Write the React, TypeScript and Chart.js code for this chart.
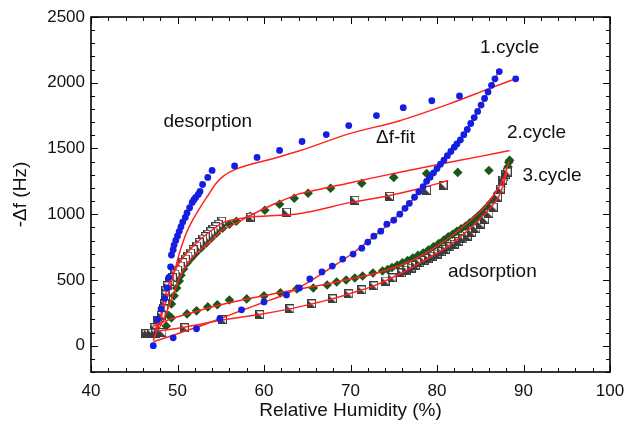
import React, { useEffect, useRef } from "react";
import { Chart, registerables } from "chart.js";

Chart.register(...registerables);

// ---- Data (Relative Humidity %, -Δf Hz) ----
const c1AdsX = [47.2,49.5,52.2,54.9,57.4,60.0,62.6,64.1,65.3,66.7,67.9,69.1,70.3,71.3,72.0,72.7,73.5,74.2,75.0,75.7,76.3,76.8,77.4,77.9,78.4,78.8,79.2,79.6,80.0,80.4,80.8,81.2,81.6,82.0,82.3,82.7,83.1,83.5,83.9,84.3,84.7,85.1,85.5,85.9,86.3,86.7,87.2];
const c1AdsY = [0,60,129,205,273,333,386,439,508,561,606,659,697,742,788,833,871,924,955,1000,1045,1083,1129,1170,1210,1250,1282,1315,1347,1380,1412,1445,1477,1510,1535,1565,1605,1645,1690,1735,1782,1830,1880,1930,1980,2030,2085];
const c1DesX = [89.1,82.6,79.4,76.1,73.0,69.8,67.2,64.4,61.8,59.2,56.6,54.0,53.5,52.9,52.6,52.4,52.1,51.9,51.7,51.4,51.1,50.9,50.6,50.4,50.2,50.0,49.8,49.6,49.5,49.3,49.2,49.0,48.8,48.5,48.1,47.7];
const c1DesY = [2030,1900,1863,1810,1750,1674,1606,1553,1485,1432,1367,1333,1280,1226,1173,1150,1128,1110,1090,1050,1010,975,940,905,870,835,800,765,730,690,600,520,440,360,280,200];
const c1FitAdsX = [47.2,49.5,52.2,54.9,57.4,60.0,62.6,65.3,67.9,70.3,72.7,75.0,77.4,79.4,81.3,83.3,85.2,87.2];
const c1FitAdsY = [30,80,140,205,268,330,395,490,600,705,830,960,1125,1298,1455,1625,1842,2095];
const c1FitDesX = [89.1,86.1,81.5,75.7,69.9,64.2,61.1,58.0,56.5,55.3,54.4,53.6,52.7,51.8,51.0,50.3,49.8,49.3,48.8,48.2,47.6,47.2];
const c1FitDesY = [2030,1957,1841,1711,1613,1484,1424,1370,1335,1290,1230,1150,1060,960,853,720,600,480,360,240,120,40];

const c2AdsX = [49.3,51.1,52.2,53.5,54.6,56.0,58.0,60.0,61.9,63.8,65.7,67.3,68.4,69.5,70.5,71.4,72.6,73.7,74.3,74.8,75.4,76.0,76.6,77.2,77.8,78.4,79.0,79.6,80.2,80.8,81.3,81.8,82.3,82.8,83.3,83.8,84.3,84.8,85.3,85.8,86.2,86.6,87.0,87.4,87.7,88.0,88.2,88.3,88.4];
const c2AdsY = [212,242,265,295,311,348,356,379,402,432,439,462,485,500,515,530,553,568,580,595,612,630,648,667,687,705,728,752,777,803,828,848,870,890,908,935,960,990,1020,1055,1085,1115,1160,1210,1260,1310,1360,1395,1410];
const c2DesX = [86.0,82.4,78.8,75.0,71.3,67.7,65.1,63.5,61.8,60.1,58.4,56.8,56.0,55.2,54.5,53.9,53.3,52.7,52.1,51.6,51.1,50.7,50.4,50.2,49.9,49.6,49.3,49.0,48.7];
const c2DesY = [1333,1318,1310,1280,1235,1197,1159,1121,1076,1030,985,947,924,894,856,818,780,742,704,667,629,583,535,492,439,379,318,230,150];
const c2FitAdsX = [47.2,49.3,51.1,54.6,58.0,61.9,65.7,69.5,73.7,77.2,79.6,81.8,83.8,85.3,86.6,87.7,88.3];
const c2FitAdsY = [150,205,240,305,355,405,450,500,565,650,740,840,950,1040,1150,1270,1400];
const c2FitDesX = [88.4,85.0,80.0,75.7,70.0,64.2,63.3,61.1,58.7,56.8,55.3,53.8,52.2,51.1,50.2,49.7,49.1,48.5,47.9];
const c2FitDesY = [1484,1440,1376,1320,1240,1157,1136,1076,1000,932,886,795,705,621,515,420,320,212,136];

const c3AdsX = [46.3,46.6,47.0,47.4,47.8,48.2,50.8,55.2,59.5,63.0,65.5,67.9,69.8,71.3,72.7,74.0,74.8,75.9,76.5,77.0,77.5,78.0,78.5,79.0,79.5,80.0,80.5,81.0,81.5,82.0,82.5,83.0,83.5,84.0,84.5,85.0,85.5,86.0,86.5,87.0,87.3,87.6,87.9,88.1];
const c3AdsY = [90,92,95,95,98,100,136,197,235,280,318,356,394,424,455,492,515,553,575,590,610,630,648,664,680,697,715,733,752,772,792,812,833,860,890,925,962,1005,1054,1130,1190,1260,1300,1320];
const c3DesX = [80.7,78.8,74.5,70.5,62.6,58.4,55.1,54.7,54.4,54.1,53.8,53.5,53.2,52.9,52.5,52.2,51.8,51.5,51.2,50.9,50.6,50.3,50.0,49.7,49.4,49.1,48.8,48.6,48.6,48.6,48.5,48.4,48.1,47.7,47.3,46.9];
const c3DesY = [1219,1181,1136,1106,1015,977,947,924,905,886,867,848,830,811,785,758,730,705,682,659,632,606,575,545,518,492,455,417,385,356,318,280,230,189,136,91];
const c3FitAdsX = [47.5,50.8,55.2,59.5,63.0,65.5,67.9,69.8,72.7,75.9,78.8,81.8,84.9,87.1,88.1];
const c3FitAdsY = [110,140,195,238,280,318,356,394,455,553,659,780,960,1130,1320];
const c3FitDesX = [81.3,78.0,74.0,70.0,64.2,58.0,55.4,54.0,52.5,51.0,50.0,49.3,48.8,48.4,48.0,47.4];
const c3FitDesY = [1256,1195,1135,1090,1006,975,940,880,800,700,610,520,430,330,220,120];

const xTicksMajor = [40, 50, 60, 70, 80, 90, 100];
const yTicksMajor = [0, 500, 1000, 1500, 2000, 2500];

const labels = [
  { text: "1.cycle", x: 88.4, y: 2266 },
  { text: "2.cycle", x: 91.5, y: 1620 },
  { text: "3.cycle", x: 93.3, y: 1295 },
  { text: "\u0394f-fit", x: 75.2, y: 1583 },
  { text: "desorption", x: 53.5, y: 1705 },
  { text: "adsorption", x: 86.4, y: 559 },
];

const pts = (xs: number[], ys: number[]) => xs.map((x, i) => ({ x, y: ys[i] }));

const FONT = "'Liberation Sans', Arial, Helvetica, sans-serif";

function makeSquare(): HTMLCanvasElement {
  const c = document.createElement("canvas");
  c.width = 9;
  c.height = 9;
  const g = c.getContext("2d")!;
  g.fillStyle = "#ffffff";
  g.fillRect(0, 0, 9, 9);
  g.fillStyle = "#3c3c3c";
  g.beginPath();
  g.moveTo(0, 0);
  g.lineTo(0, 9);
  g.lineTo(9, 9);
  g.closePath();
  g.fill();
  g.strokeStyle = "#3c3c3c";
  g.lineWidth = 1;
  g.strokeRect(0.5, 0.5, 8, 8);
  return c;
}

const framePlugin = {
  id: "frameTicks",
  afterDraw(chart: any) {
    const { ctx, chartArea } = chart;
    const { left, right, top, bottom } = chartArea;
    const xs = chart.scales.x;
    const ys = chart.scales.y;
    ctx.save();
    ctx.strokeStyle = "#000";
    ctx.lineWidth = 1;
    const line = (a: number, b: number, c: number, d: number) => {
      ctx.beginPath();
      ctx.moveTo(a, b);
      ctx.lineTo(c, d);
      ctx.stroke();
    };
    for (let v = xs.min; v <= xs.max + 1e-9; v += 2) {
      const px = Math.round(xs.getPixelForValue(v)) + 0.5;
      const len = xTicksMajor.includes(v) ? 7 : 4;
      line(px, bottom, px, bottom - len);
      line(px, top, px, top + len);
    }
    for (let v = ys.min; v <= ys.max + 1e-9; v += 100) {
      const py = Math.round(ys.getPixelForValue(v)) + 0.5;
      const len = yTicksMajor.includes(v) ? 7 : 4;
      line(left, py, left + len, py);
      line(right, py, right - len, py);
    }
    ctx.lineWidth = 1.6;
    ctx.strokeRect(left, top, right - left, bottom - top);

    ctx.fillStyle = "#111";
    ctx.font = `19px ${FONT}`;
    ctx.textAlign = "center";
    ctx.textBaseline = "middle";
    for (const l of labels) {
      ctx.fillText(l.text, xs.getPixelForValue(l.x), ys.getPixelForValue(l.y));
    }
    ctx.restore();
  },
};

export default function App() {
  const ref = useRef<HTMLCanvasElement>(null);
  useEffect(() => {
    const canvas = ref.current!;
    const square = makeSquare();
    const red = "#ff2222";
    const fit = (xs: number[], ys: number[]) => ({
      data: pts(xs, ys),
      showLine: true,
      borderColor: red,
      backgroundColor: red,
      borderWidth: 1.5,
      pointRadius: 0,
      tension: 0.3,
      order: 1,
    });
    const blue = "rgb(20,30,225)";
    const green = "#1b561b";
    const chart = new Chart(canvas, {
      type: "scatter",
      data: {
        datasets: [
          { data: pts(c1AdsX, c1AdsY), pointStyle: "circle", pointRadius: 3.4, backgroundColor: blue, borderColor: blue, borderWidth: 0, order: 0 },
          { data: pts(c1DesX, c1DesY), pointStyle: "circle", pointRadius: 3.4, backgroundColor: blue, borderColor: blue, borderWidth: 0, order: 0 },
          fit(c1FitAdsX, c1FitAdsY),
          fit(c1FitDesX, c1FitDesY),
          fit(c2FitAdsX, c2FitAdsY),
          fit(c2FitDesX, c2FitDesY),
          fit(c3FitAdsX, c3FitAdsY),
          fit(c3FitDesX, c3FitDesY),
          { data: pts(c3AdsX, c3AdsY), pointStyle: square as any, pointRadius: 4.5, order: 2 },
          { data: pts(c3DesX, c3DesY), pointStyle: square as any, pointRadius: 4.5, order: 2 },
          { data: pts(c2AdsX, c2AdsY), pointStyle: "rectRot", pointRadius: 4.8, backgroundColor: green, borderColor: green, borderWidth: 0, order: 3 },
          { data: pts(c2DesX, c2DesY), pointStyle: "rectRot", pointRadius: 4.8, backgroundColor: green, borderColor: green, borderWidth: 0, order: 3 },
        ],
      },
      options: {
        responsive: false,
        animation: false,
        events: [],
        layout: { padding: { left: 0, right: 25, top: 17, bottom: 0 } },
        plugins: { legend: { display: false }, tooltip: { enabled: false } },
        scales: {
          x: {
            type: "linear",
            min: 40,
            max: 100,
            grid: { display: false, drawTicks: false },
            border: { display: false },
            afterFit: (s: any) => { s.height = 55; },
            afterBuildTicks: (s: any) => {
              s.ticks = xTicksMajor.map((v) => ({ value: v }));
            },
            ticks: {
              autoSkip: false,
              maxRotation: 0,
              padding: 9,
              color: "#111",
              font: { family: FONT, size: 17 },
              callback: (v: any) => String(v),
            },
            title: {
              display: true,
              text: "Relative Humidity (%)",
              color: "#111",
              font: { family: FONT, size: 19 },
              padding: { top: 0, bottom: 5 },
            },
          },
          y: {
            type: "linear",
            min: -200,
            max: 2500,
            grid: { display: false, drawTicks: false },
            border: { display: false },
            afterFit: (s: any) => { s.width = 91; },
            afterBuildTicks: (s: any) => {
              s.ticks = yTicksMajor.map((v) => ({ value: v }));
            },
            ticks: {
              autoSkip: false,
              padding: 6,
              color: "#111",
              font: { family: FONT, size: 17 },
              callback: (v: any) => String(v),
            },
            title: {
              display: true,
              text: "-\u0394f (Hz)",
              color: "#111",
              font: { family: FONT, size: 19 },
              padding: { top: 9, bottom: 0 },
            },
          },
        },
      },
      plugins: [framePlugin],
    } as any);
    return () => chart.destroy();
  }, []);
  return (
    <div style={{ position: "absolute", left: 0, top: 0, width: 635, height: 427, background: "#fff" }}>
      <canvas ref={ref} width={635} height={427} style={{ display: "block" }} />
    </div>
  );
}
